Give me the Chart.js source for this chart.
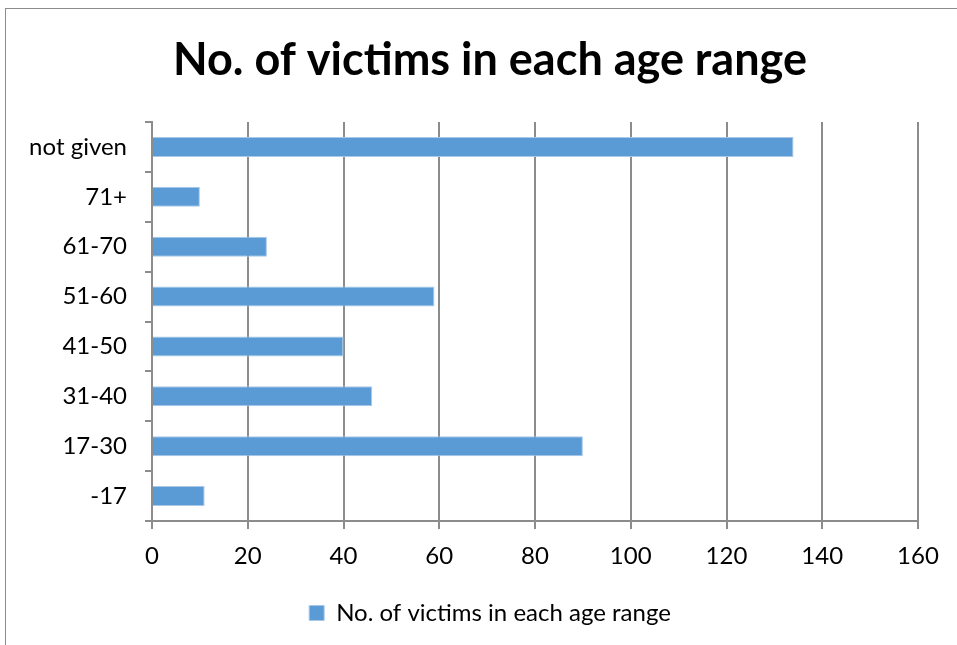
<!DOCTYPE html>
<html>
<head>
<meta charset="utf-8">
<script src="https://cdn.jsdelivr.net/npm/chart.js@4"></script>
<style>
  body { margin: 0; background: #fff; }
  #wrap { position: relative; width: 957px; height: 645px; }
  #frame { position: absolute; left: 5px; top: 8px; right: -2px; bottom: -2px; border-top: 1px solid #8c8c8c; border-left: 1px solid #8c8c8c; }
  canvas { position: absolute; left: 0; top: 0; }
</style>
</head>
<body>
<div id="wrap">
  <div id="frame"></div>
  <canvas id="miGrafica" width="957" height="645"></canvas>
</div>
<script>
const categorias = ["-17", "17-30", "31-40", "41-50", "51-60", "61-70", "71+", "not given"];
const victimas = [11, 90, 46, 40, 59, 24, 10, 134];
const titulo = "No. of victims in each age range";
const fuente = "Lato, 'Open Sans', sans-serif";

let miGrafica = document.getElementById("miGrafica").getContext("2d");

// el grafico original esta recortado a la derecha: se extiende el area
// con padding negativo y un eje vacio a la derecha para centrar titulo y leyenda
var chart = new Chart(miGrafica, {
    type: "bar",
    data: {
        labels: categorias,
        datasets: [
            {
                label: titulo,
                backgroundColor: "#5b9bd5",
                borderColor: "#a9c8e8",
                borderWidth: 1,
                barPercentage: 0.8,
                categoryPercentage: 0.5,
                data: victimas
            }
        ]
    },
    options: {
        indexAxis: "y",
        responsive: false,
        animation: false,
        layout: { padding: { left: 0, right: -23, top: 0, bottom: 10 } },
        plugins: {
            title: {
                display: true,
                text: titulo,
                color: "#000",
                font: { family: fuente, size: 45, weight: "bold", lineHeight: 1.2 },
                padding: { top: 33, bottom: 35 }
            },
            legend: {
                position: "bottom",
                labels: {
                    color: "#000",
                    font: { family: fuente, size: 24 },
                    boxWidth: 15,
                    boxHeight: 15,
                    padding: 10
                }
            },
            tooltip: { enabled: false }
        },
        scales: {
            y: {
                reverse: true,
                afterFit: function (scale) { scale.width = 152; },
                border: { color: "#8c8c8c", width: 2 },
                grid: { offset: true, drawOnChartArea: false, drawTicks: true, tickLength: 7, color: "#8c8c8c", lineWidth: 2 },
                ticks: { color: "#000", font: { family: fuente, size: 24 }, padding: 18 }
            },
            yRight: {
                type: "category",
                position: "right",
                afterFit: function (scale) { scale.width = 62; },
                border: { display: false },
                grid: { display: false },
                ticks: { display: false }
            },
            x: {
                min: 0,
                max: 160,
                afterFit: function (scale) { scale.height = 70; },
                border: { color: "#8c8c8c", width: 2 },
                grid: { color: "#8c8c8c", lineWidth: 2, tickLength: 8 },
                ticks: { stepSize: 20, color: "#000", font: { family: fuente, size: 24 }, padding: 13 }
            }
        }
    }
});
</script>
</body>
</html>
